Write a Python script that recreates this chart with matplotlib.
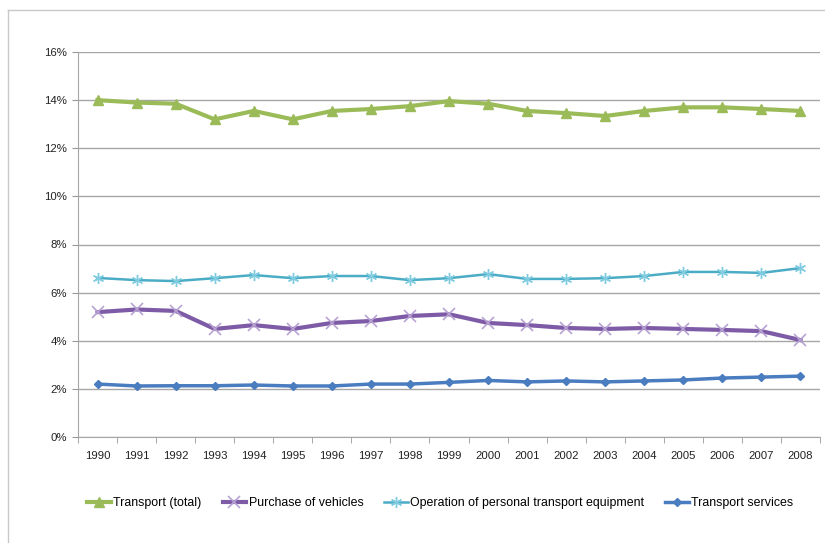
import matplotlib
matplotlib.use("Agg")
import matplotlib.pyplot as plt
from matplotlib.lines import Line2D
from matplotlib.ticker import FuncFormatter, MultipleLocator, FixedLocator
import numpy as np

years = [str(y) for y in range(1990, 2009)]
transport_total = [14.0, 13.9, 13.85, 13.2, 13.55, 13.2, 13.55, 13.63, 13.75, 13.96,
                   13.85, 13.55, 13.46, 13.34, 13.55, 13.7, 13.7, 13.63, 13.55]
purchase_vehicles = [5.19, 5.3, 5.24, 4.49, 4.65, 4.49, 4.74, 4.82, 5.03, 5.1,
                     4.74, 4.65, 4.53, 4.49, 4.53, 4.49, 4.45, 4.4, 4.03]
operation_equipment = [6.61, 6.52, 6.48, 6.6, 6.73, 6.6, 6.69, 6.69, 6.52, 6.6,
                       6.77, 6.57, 6.57, 6.6, 6.69, 6.86, 6.86, 6.82, 7.02]
transport_services = [2.2, 2.12, 2.13, 2.13, 2.16, 2.12, 2.12, 2.2, 2.2, 2.27,
                      2.35, 2.29, 2.33, 2.29, 2.33, 2.37, 2.45, 2.49, 2.53]
labels = ["Transport (total)", "Purchase of vehicles",
          "Operation of personal transport equipment", "Transport services"]

plt.rcParams['font.family'] = ['Liberation Sans', 'DejaVu Sans']

fig = plt.figure(figsize=(8.25, 5.43), dpi=100)
ax = fig.add_axes([78/825, 1-437/543, (820-78)/825, (437-52)/543])

# outer frame (partially visible)
fig.add_artist(Line2D([8/825, 8/825], [0, 1-10/543], transform=fig.transFigure, color='#c8c8c8', lw=1))
fig.add_artist(Line2D([8/825, 1], [1-10/543, 1-10/543], transform=fig.transFigure, color='#c8c8c8', lw=1))

x = np.arange(len(years))
ax.plot(x, transport_total, color='#9BBB59', lw=3, marker='^', ms=7, mfc='#9BBB59', mec='#9BBB59', label=labels[0])
ax.plot(x, purchase_vehicles, color='#7D5BA6', lw=3, marker='x', ms=8, mew=1.2, mec='#B7A2D3', label=labels[1])
ax.plot(x, operation_equipment, color='#4BACC6', lw=1.8, marker=(6, 2, 0), ms=8, mew=1.0, mec='#7FCBE0', label=labels[2])
ax.plot(x, transport_services, color='#4A7CC0', lw=2.5, marker='D', ms=4.5, mfc='#4A7CC0', mec='#4A7CC0', label=labels[3])

ax.set_xlim(-0.5, len(years) - 0.5)
ax.set_ylim(0, 16)
ax.yaxis.set_major_locator(MultipleLocator(2))
ax.yaxis.set_major_formatter(FuncFormatter(lambda v, p: f"{int(round(v))}%"))
ax.set_xticks(x)
ax.set_xticklabels(years)
ax.xaxis.set_minor_locator(FixedLocator(np.arange(-0.5, len(years), 1)))
ax.tick_params(axis='x', which='major', length=0, pad=10, labelsize=8.2, colors='#222222')
ax.tick_params(axis='x', which='minor', length=4, color='#999999', direction='out')
ax.tick_params(axis='y', length=4, color='#999999', labelsize=8.2, colors='#222222', pad=4)

ax.grid(axis='y', color='#a6a6a6', lw=1)
ax.set_axisbelow(True)
for s in ['top', 'right']:
    ax.spines[s].set_visible(False)
ax.spines['left'].set_color('#a6a6a6')
ax.spines['bottom'].set_color('#a6a6a6')

ax.legend(loc='center', bbox_to_anchor=((440.5-78)/742, (437-503)/385), ncol=4, frameon=False,
          fontsize=8.9, handlelength=1.9, columnspacing=1.7, handletextpad=0.2)

fig.savefig("out.png", dpi=100)
